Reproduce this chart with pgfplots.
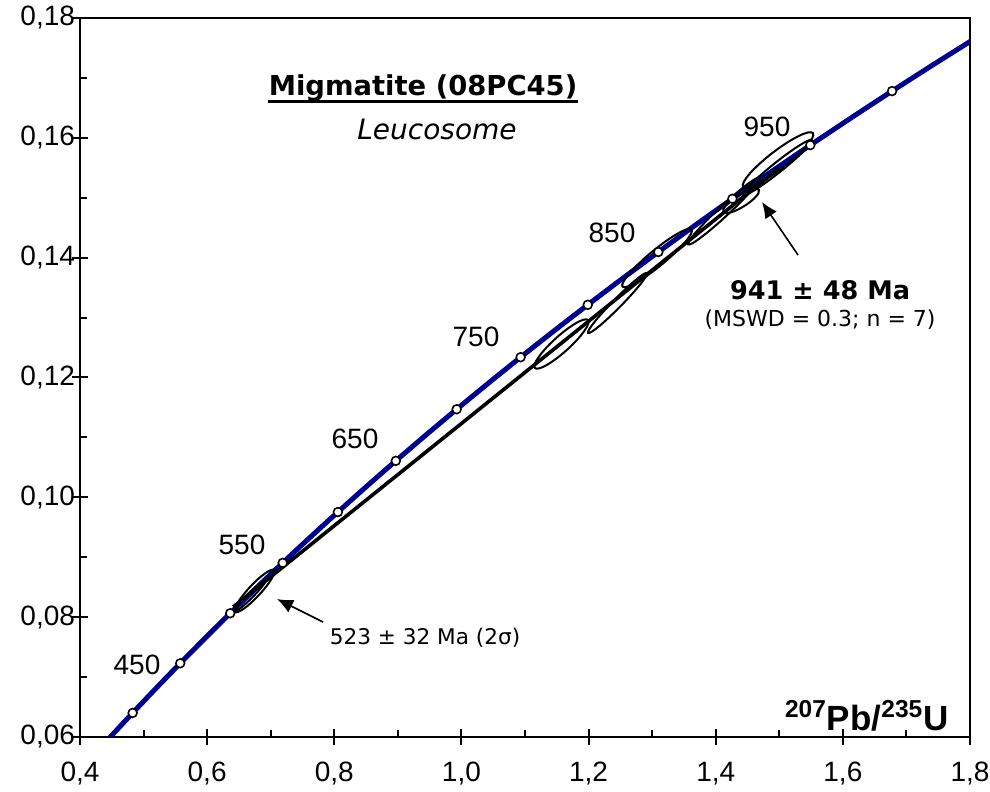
\documentclass[border=0pt]{standalone}
\usepackage{fontspec}
\setmainfont{Liberation Sans}
\newfontfamily\verdana{DejaVu Sans}
\usepackage{pgfplots}
\pgfplotsset{compat=1.18}
\usetikzlibrary{arrows.meta}
\definecolor{concblue}{RGB}{0,0,145}

\begin{document}
\begin{tikzpicture}
\begin{axis}[
  scale only axis, width=445pt, height=359.5pt,
  xmin=0.4, xmax=1.8, ymin=0.06, ymax=0.18,
  xtick={0.4,0.6,0.8,1.0,1.2,1.4,1.6,1.8},
  ytick={0.06,0.08,0.10,0.12,0.14,0.16,0.18},
  minor x tick num=1, minor y tick num=1,
  tick pos=left,
  tick align=inside,
  major tick length=8pt, minor tick length=3.5pt,
  major x tick style={yshift=-4pt},
  major y tick style={xshift=-4pt},
  axis line style={line width=1pt},
  every tick/.style={black, line width=1pt},
  xticklabel style={font=\fontsize{14}{16}\selectfont, /pgf/number format/use comma, /pgf/number format/fixed, /pgf/number format/fixed zerofill, /pgf/number format/precision=1, /pgf/number format/assume math mode=true, yshift=-9pt},
  yticklabel style={font=\fontsize{14}{16}\selectfont, /pgf/number format/use comma, /pgf/number format/fixed, /pgf/number format/fixed zerofill, /pgf/number format/precision=2, /pgf/number format/assume math mode=true, xshift=1pt},
]
% concordia curve (ages 375 - 1050 Ma, step 25)
\addplot[concblue, line width=2.5pt, smooth] coordinates {
(0.44675,0.059897) (0.48281,0.064016) (0.51977,0.06815) (0.55766,0.07230)
(0.59648,0.076467) (0.63628,0.08065) (0.67707,0.08485) (0.71887,0.08906)
(0.76172,0.09330) (0.80563,0.09754) (0.85064,0.10181) (0.89677,0.10609)
(0.94405,0.11039) (0.99251,0.11470) (1.04218,0.11903) (1.09308,0.12338)
(1.14526,0.12775) (1.19873,0.13213) (1.25354,0.13653) (1.30971,0.14094)
(1.36729,0.14538) (1.42630,0.14983) (1.48677,0.15430) (1.54876,0.15878)
(1.61230,0.16328) (1.67741,0.16780) (1.74415,0.17234) (1.81256,0.17690)
};
% error ellipses
\draw[line width=1pt, rotate around={47:(axis cs:0.6745,0.08437)}] (axis cs:0.6745,0.08437) ellipse [x radius=14.3pt, y radius=3pt];
\draw[line width=1pt, rotate around={45:(axis cs:0.6674,0.08353)}] (axis cs:0.6674,0.08353) ellipse [x radius=11pt, y radius=1.3pt];
\draw[line width=1pt, rotate around={42:(axis cs:1.1574,0.12559)}] (axis cs:1.1574,0.12559) ellipse [x radius=17.9pt, y radius=4pt];
\draw[line width=1pt, rotate around={45.5:(axis cs:1.2455,0.13243)}] (axis cs:1.2455,0.13243) ellipse [x radius=21pt, y radius=2.2pt];
\draw[line width=1pt, rotate around={39.6:(axis cs:1.3077,0.13994)}] (axis cs:1.3077,0.13994) ellipse [x radius=22.4pt, y radius=4pt];
\draw[line width=1pt, rotate around={43:(axis cs:1.4130,0.14779)}] (axis cs:1.4130,0.14779) ellipse [x radius=24.5pt, y radius=2.6pt];
\draw[line width=1pt, rotate around={32:(axis cs:1.4398,0.14946)}] (axis cs:1.4398,0.14946) ellipse [x radius=10.5pt, y radius=3pt];
\draw[line width=1pt, rotate around={37.6:(axis cs:1.4980,0.15630)}] (axis cs:1.4980,0.15630) ellipse [x radius=22pt, y radius=4.5pt];
\draw[line width=1pt, rotate around={38.6:(axis cs:1.4972,0.15505)}] (axis cs:1.4972,0.15505) ellipse [x radius=22pt, y radius=2.5pt];
% discordia
\addplot[black, line width=1.8pt] coordinates {(0.641,0.0817) (1.50,0.15497)};
% age markers 400 - 1000 Ma
\addplot[only marks, mark=*, mark size=2.2pt, mark options={fill=white, draw=black, line width=0.8pt}] coordinates {
(0.48281,0.064016) (0.55766,0.07230) (0.63628,0.08065) (0.71887,0.08906)
(0.80563,0.09754) (0.89677,0.10609) (0.99251,0.11470) (1.09308,0.12338)
(1.19873,0.13213) (1.30971,0.14094) (1.42630,0.14983) (1.54876,0.15878)
(1.67741,0.16780)
};
% age labels
\node[font=\fontsize{14}{16}\selectfont] at (axis cs:0.4897,0.07202) {450};
\node[font=\fontsize{14}{16}\selectfont] at (axis cs:0.6548,0.09205) {550};
\node[font=\fontsize{14}{16}\selectfont] at (axis cs:0.8326,0.10974) {650};
\node[font=\fontsize{14}{16}\selectfont] at (axis cs:1.0229,0.12676) {750};
\node[font=\fontsize{14}{16}\selectfont] at (axis cs:1.2369,0.14412) {850};
\node[font=\fontsize{14}{16}\selectfont] at (axis cs:1.4807,0.16181) {950};
% titles
\node[inner sep=0pt, font=\verdana\bfseries\fontsize{13.7}{16}\selectfont] (ttl) at (axis cs:0.9396,0.16832) {Migmatite (08PC45)};
\draw[line width=1.4pt] ([yshift=-3.2pt]ttl.base west) -- ([yshift=-3.2pt]ttl.base east);
\node[font=\verdana\itshape\fontsize{14}{16}\selectfont] at (axis cs:0.9616,0.16131) {Leucosome};
\node[font=\verdana\bfseries\fontsize{12.8}{15}\selectfont] at (axis cs:1.5641,0.13460) {941 ± 48 Ma};
\node[font=\verdana\fontsize{11}{13}\selectfont] at (axis cs:1.5641,0.12960) {(MSWD = 0.3; n = 7)};
\node[font=\verdana\fontsize{10.8}{13}\selectfont] at (axis cs:0.9427,0.07652) {523 ± 32 Ma (2σ)};
\node[anchor=east, font=\bfseries\fontsize{17.5}{20}\selectfont] at (axis cs:1.7774,0.06351) {\textsuperscript{207}Pb/\textsuperscript{235}U};
% arrows
\draw[line width=0.8pt, -{Latex[length=8pt,width=7pt]}] (axis cs:1.5294,0.14045) -- (axis cs:1.4728,0.14929);
\draw[line width=0.8pt, -{Latex[length=8pt,width=7pt]}] (axis cs:0.7823,0.07919) -- (axis cs:0.7099,0.08303);
\end{axis}
\pgfresetboundingbox
\path ([shift={(-40pt,-27.5pt)}]current axis.south west) rectangle ([shift={(10pt,9pt)}]current axis.north east);
\end{tikzpicture}
\end{document}
